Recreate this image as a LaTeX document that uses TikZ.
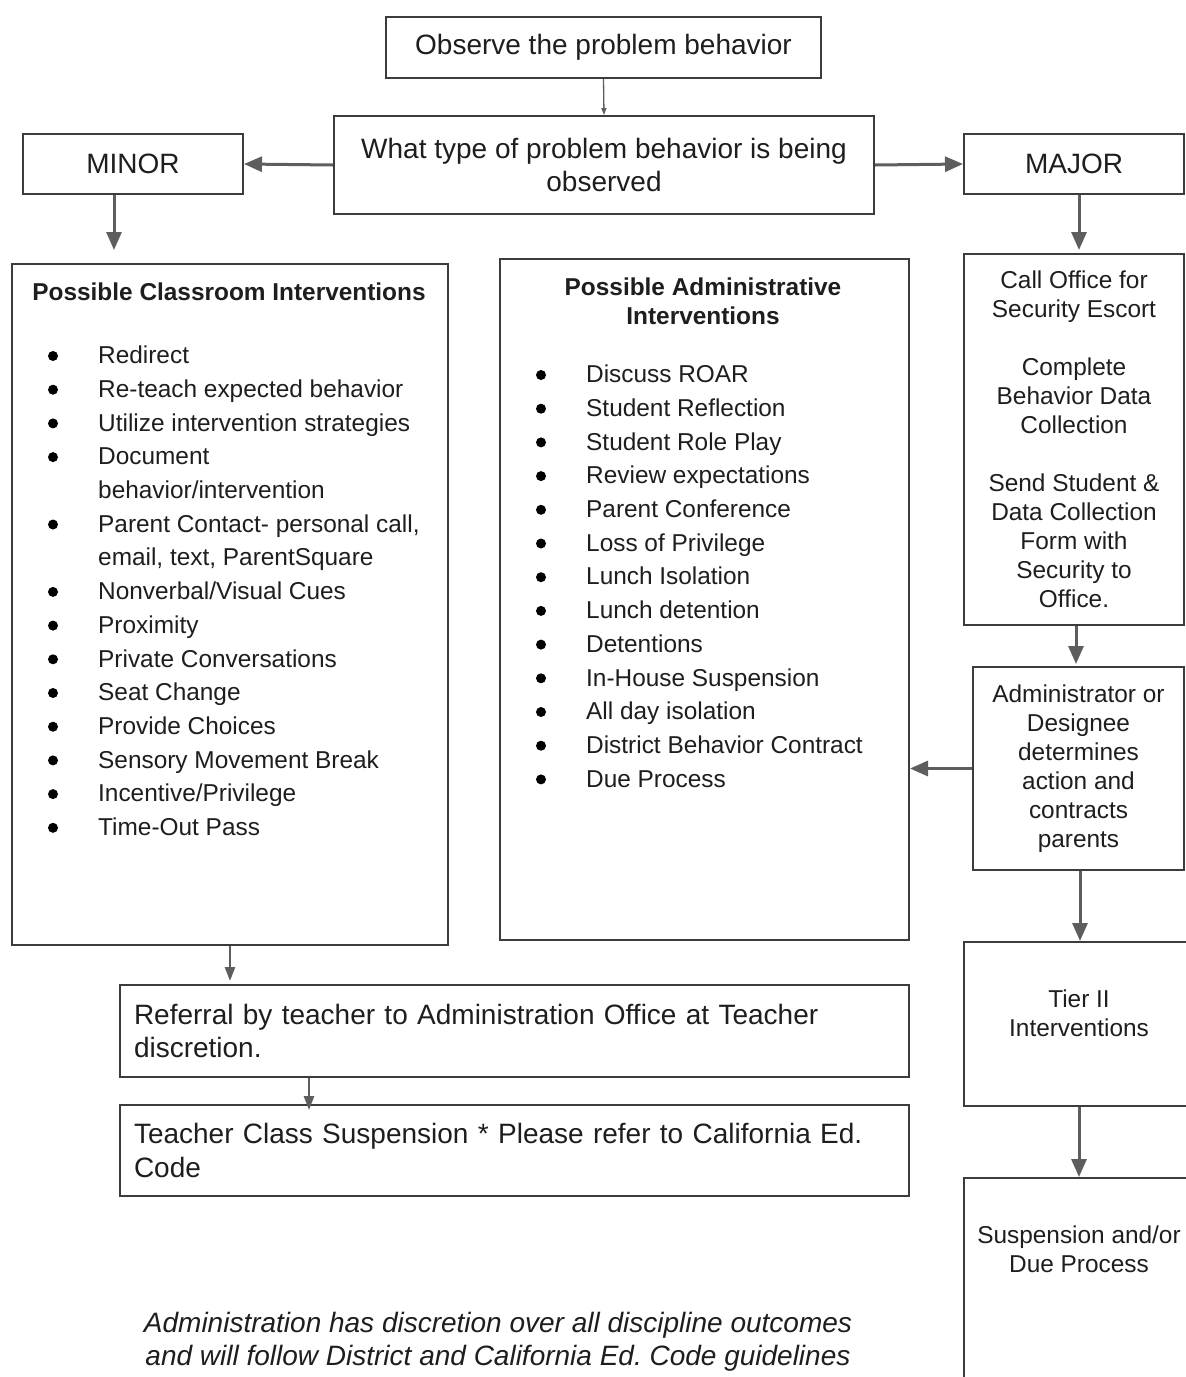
\documentclass[tikz,border=0pt]{standalone}
\usepackage{fontspec}
\setmainfont{Liberation Sans}
\usetikzlibrary{arrows.meta}
\frenchspacing
\definecolor{edge}{HTML}{3C3C3C}
\definecolor{arrowgray}{HTML}{5E5E5E}
\definecolor{ink}{HTML}{1E1E1E}
\newcommand\flowfont{\fontsize{28}{33.5}\selectfont}
\newcommand\listfont{\fontsize{24.4}{33.7}\selectfont}
\newcommand\sidefont{\fontsize{24.4}{29}\selectfont}
\begin{document}
\begin{tikzpicture}[x=1pt,y=-1pt,
  box/.style={draw=edge, line width=2pt, anchor=north west, inner sep=0pt, text=ink},
  arr/.style={draw=arrowgray, line width=3pt, -{Triangle[width=15pt,length=18pt]}},
  midarr/.style={draw=arrowgray, line width=2.5pt, -{Triangle[width=10pt,length=14pt]}},
  thinarr/.style={draw=arrowgray, line width=1.3pt, -{Triangle[width=5pt,length=7pt]}},
  txt/.style={text=ink, inner sep=0pt},
  dot/.style={circle, fill=black, inner sep=0pt, minimum size=10pt}]
\useasboundingbox (0,0) rectangle (1186,1377);
\fill[white] (0,0) rectangle (1186,1377);
\clip (0,0) rectangle (1186,1377);
% top of the chart
\node[box, minimum width=435pt, minimum height=61pt, font=\flowfont] (obs) at (385,16) {Observe the problem behavior};
\node[box, minimum width=540pt, minimum height=98pt, font=\flowfont, align=center] (what) at (333,115) {What type of problem behavior is being\\observed};
\node[box, minimum width=220pt, minimum height=60pt, font=\flowfont] (minor) at (22,133) {MINOR};
\node[box, minimum width=220pt, minimum height=60pt, font=\flowfont] (major) at (963,133) {MAJOR};
% classroom list
\node[box, minimum width=436pt, minimum height=681pt] (class) at (11,263) {};
\node[txt, font=\listfont\bfseries] (classhead) at (229,292) {Possible Classroom Interventions};
\foreach \t [count=\i from 0] in {Redirect, Re-teach expected behavior, Utilize intervention strategies, Document, behavior/intervention, {Parent Contact- personal call,}, {email, text, ParentSquare}, Nonverbal/Visual Cues, Proximity, Private Conversations, Seat Change, Provide Choices, Sensory Movement Break, Incentive/Privilege, Time-Out Pass}
  \node[txt, font=\listfont, anchor=base west] (ci\i) at (98,{363.7+33.7*\i}) {\t};
\foreach \i in {0,1,2,3,5,7,8,9,10,11,12,13,14}
  \node[dot] (cb\i) at (53,{356+33.7*\i}) {};
% administrative list
\node[box, minimum width=409pt, minimum height=681pt] (admin) at (499,258) {};
\node[txt, font=\sidefont\bfseries, align=center] (adminhead) at (703,301.5) {Possible Administrative\\Interventions};
\foreach \t [count=\i from 0] in {Discuss ROAR, Student Reflection, Student Role Play, Review expectations, Parent Conference, Loss of Privilege, Lunch Isolation, Lunch detention, Detentions, In-House Suspension, All day isolation, District Behavior Contract, Due Process}
  \node[txt, font=\listfont, anchor=base west] (ai\i) at (586,{382.7+33.7*\i}) {\t};
\foreach \i in {0,...,12}
  \node[dot] (ab\i) at (541,{375+33.7*\i}) {};
% major column
\node[box, minimum width=220pt, minimum height=371pt, font=\sidefont, align=center] (call) at (963,253) {Call Office for\\Security Escort\\[29pt]Complete\\Behavior Data\\Collection\\[29pt]Send Student \&\\Data Collection\\Form with\\Security to\\Office.};
\node[box, minimum width=211pt, minimum height=203pt, font=\sidefont, align=center] (adm) at (972,666) {Administrator or\\Designee\\determines\\action and\\contracts\\parents};
\node[box, minimum width=240pt, minimum height=164pt] (tier) at (963,941) {};
\node[txt, font=\sidefont, align=center] (tiertxt) at (1079,1013.5) {Tier II\\Interventions};
\node[box, minimum width=240pt, minimum height=260pt] (susp) at (963,1177) {};
\node[txt, font=\sidefont, align=center] (susptxt) at (1079,1249.5) {Suspension and/or\\Due Process};
% referral boxes
\node[box, text width=761pt, inner xsep=14pt, minimum height=92pt, align=left, font=\flowfont] (ref) at (119,984) {Referral by teacher to Administration Office at Teacher\\discretion.};
\node[box, text width=761pt, inner xsep=14pt, minimum height=91pt, align=left, font=\flowfont] (teacher) at (119,1104) {Teacher Class Suspension * Please refer to California Ed.\\Code};
\node[txt, font=\flowfont\itshape, align=center] (note) at (498,1341.5) {Administration has discretion over all discipline outcomes\\and will follow District and California Ed. Code guidelines};
% arrows
\coordinate (minorfoot) at ([xshift=-19pt]minor.south);
\coordinate (reffoot) at ([xshift=-205.5pt]ref.south);
\draw[thinarr] (obs.south) -- (what.north);
\draw[arr] (what.west) -- (minor.east);
\draw[arr] (what.east) -- (major.west);
\draw[arr, shorten >=13pt] (minorfoot) -- (minorfoot |- class.north);
\draw[arr, shorten >=3pt] ([xshift=5pt]major.south) -- ([xshift=5pt]major.south |- call.north);
\draw[arr, shorten >=2pt] ([xshift=2pt]call.south) -- ([xshift=2pt]call.south |- adm.north);
\draw[arr] (adm.west) -- (adm.west -| admin.east);
\draw[arr] ([xshift=1.5pt]adm.south) -- ([xshift=1.5pt]adm.south |- tier.north);
\draw[arr] (tiertxt |- tier.south) -- (tiertxt |- susp.north);
\draw[midarr, shorten >=3pt] (class.south) -- (class.south |- ref.north);
\draw[midarr, shorten >=-6pt] (reffoot) -- (reffoot |- teacher.north);
\end{tikzpicture}
\end{document}
